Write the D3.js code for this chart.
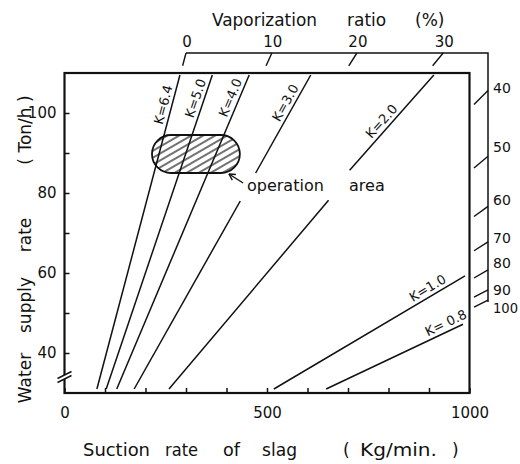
<!DOCTYPE html>
<html><head><meta charset="utf-8">
<script src="https://cdn.jsdelivr.net/npm/d3@7"></script>
<style>
body{margin:0;background:#fff}
svg{display:block}
text{font-family:"DejaVu Sans",sans-serif;fill:#111}
</style>
</head><body>
<svg id="c" width="520" height="464"></svg>
<script>
// ---------- data ----------
const xTickValues = [0,100,200,300,400,500,600,700,800,900,1000];
const xTickLabels = [0,500,1000];
const yTickValues = [40,50,60,70,80,90,100];
const yTickLabels = [40,60,80,100];
const kLabels = ["K=6.4","K=5.0","K=4.0","K=3.0","K=2.0","K=1.0","K= 0.8"];
// segments of each K line: [[S,W],[S,W]] (S kg/min, W ton/h)
const kSegments = [
  [[[80,31],[285,109.5]]],
  [[[103,31],[365,109.5]]],
  [[[129,31],[456,109.5]]],
  [[[172,31],[434,78]], [[472,85],[608,109.5]]],
  [[[258,31],[652,78.2]], [[704,85.7],[912,109.5]]],
  [[[517,31],[989,59.3]]],
  [[[646,31],[984,47.2]]]
];
const kLabelW = [101.5,103,103,101.5,96.5,54.4,45.6];
const vapTicks = [0,10,20,30];
const vapTickS = [300,512,722,935];
const rightTicks = [40,50,60,70,80,90,100];
const rightTickW = [101.25,85.5,73.5,65,58.25,53.5,51];
const rightLabelW = [106.25,91.5,78.25,68.75,62.5,55.75,51.25];
const opAreaS = [216,433];
const opAreaW = [85,94.5];
const opArrow = [[441,82.5],[406,84.75]];

// ---------- drawing ----------
const svg = d3.select("#c");
const x = d3.scaleLinear().domain([0,1000]).range([64.5,469.5]);
const y = d3.scaleLinear().domain([30,110]).range([393,73]);
const ink = "#111";

// hatch pattern
const defs = svg.append("defs");
const pat = defs.append("pattern").attr("id","hatch").attr("patternUnits","userSpaceOnUse")
  .attr("width",6).attr("height",6).attr("patternTransform","rotate(-30)");
pat.append("line").attr("x1",0).attr("x2",6).attr("y1",3).attr("y2",3)
  .attr("stroke",ink).attr("stroke-width",1.2);

// operation area
const ox0 = x(opAreaS[0]), ox1 = x(opAreaS[1]), oy0 = y(opAreaW[1]), oy1 = y(opAreaW[0]);
svg.append("rect").attr("x",ox0).attr("y",oy0).attr("width",ox1-ox0).attr("height",oy1-oy0)
  .attr("rx",(oy1-oy0)/2).attr("ry",(oy1-oy0)/2)
  .attr("fill","url(#hatch)").attr("stroke",ink).attr("stroke-width",1.8);

// K lines
const gLines = svg.append("g").attr("stroke",ink).attr("stroke-width",1.5).attr("fill","none");
kSegments.forEach((segs,i)=>{
  segs.forEach(s=>{
    gLines.append("line").attr("x1",x(s[0][0])).attr("y1",y(s[0][1]))
      .attr("x2",x(s[1][0])).attr("y2",y(s[1][1]));
  });
  const w = kLabelW[i];
  const seg = segs.find(s=> w>=s[0][1] && w<=s[1][1]) || segs[segs.length-1];
  const sAt = d3.scaleLinear().domain([seg[0][1],seg[1][1]]).range([seg[0][0],seg[1][0]])(w);
  const ang = Math.atan2(y(seg[1][1])-y(seg[0][1]), x(seg[1][0])-x(seg[0][0]))*180/Math.PI;
  svg.append("text").attr("transform",`translate(${x(sAt)},${y(w)}) rotate(${ang})`)
    .attr("dy",-4).attr("text-anchor","middle").attr("font-size",13).text(kLabels[i]);
});

// frame
svg.append("rect").attr("x",x(0)).attr("y",y(110)).attr("width",x(1000)-x(0)).attr("height",y(30)-y(110))
  .attr("fill","none").attr("stroke",ink).attr("stroke-width",2.2);

// bottom axis
const xa = svg.append("g").attr("transform",`translate(0,${y(30)})`)
  .call(d3.axisBottom(x).tickValues(xTickValues).tickSizeInner(-5).tickSizeOuter(0).tickPadding(14)
    .tickFormat(d=> xTickLabels.includes(d)? d : ""));
xa.select(".domain").remove();
xa.selectAll("line").attr("stroke",ink).attr("stroke-width",1.5);
xa.selectAll("text").attr("font-size",15).attr("fill",ink).attr("font-family",'"DejaVu Sans",sans-serif');

// left axis
const ya = svg.append("g").attr("transform",`translate(${x(0)},0)`)
  .call(d3.axisLeft(y).tickValues(yTickValues).tickSizeInner(-5).tickSizeOuter(0).tickPadding(8)
    .tickFormat(d=> yTickLabels.includes(d)? d : ""));
ya.select(".domain").remove();
ya.selectAll("line").attr("stroke",ink).attr("stroke-width",1.5);
ya.selectAll("text").attr("font-size",15).attr("fill",ink).attr("font-family",'"DejaVu Sans",sans-serif');

// axis break
const by = y(34.5), bx = x(0);
svg.append("polygon").attr("points",`${bx-6},${by+3} ${bx+6},${by-3} ${bx+6},${by+1} ${bx-6},${by+7}`).attr("fill","#fff");
svg.append("line").attr("x1",bx-7).attr("y1",by+3.5).attr("x2",bx+7).attr("y2",by-3.5).attr("stroke",ink).attr("stroke-width",1.4);
svg.append("line").attr("x1",bx-7).attr("y1",by+7.5).attr("x2",bx+7).attr("y2",by+0.5).attr("stroke",ink).attr("stroke-width",1.4);

// vaporization ratio scale (top)
const topW = 115, topW2 = 111.8;
const bracketX = 488;
const vapS = d3.scaleLinear().domain(vapTicks).range(vapTickS);
svg.append("path").attr("d",`M${x(vapS(0))},${y(topW)} H${bracketX} V${y(rightTickW[rightTickW.length-1])-7}`)
  .attr("fill","none").attr("stroke",ink).attr("stroke-width",1.5);
vapTicks.forEach(v=>{
  const s = vapS(v);
  svg.append("line").attr("x1",x(s)).attr("y1",y(topW)).attr("x2",x(s*topW2/topW)).attr("y2",y(topW2))
    .attr("stroke",ink).attr("stroke-width",1.4);
  svg.append("text").attr("x",x(s)+1).attr("y",47).attr("text-anchor","middle").attr("font-size",15).text(v);
});
svg.append("text").attr("x",212).attr("y",26).attr("font-size",17).attr("textLength",105).attr("lengthAdjust","spacingAndGlyphs").text("Vaporization");
svg.append("text").attr("x",347).attr("y",26).attr("font-size",17).text("ratio");
svg.append("text").attr("x",415).attr("y",26).attr("font-size",17).text("(%)");

// right scale
const sFrame = x.invert(474), sBr = x.invert(bracketX), sRef = x.invert(x(1000)+1);
rightTicks.forEach((v,i)=>{
  const w0 = rightTickW[i]*sFrame/sRef;
  const w1 = rightTickW[i]*sBr/sRef;
  svg.append("line").attr("x1",474).attr("y1",y(w0)).attr("x2",bracketX).attr("y2",y(w1))
    .attr("stroke",ink).attr("stroke-width",1.4);
  const t = svg.append("text").attr("x",493).attr("y",y(rightLabelW[i])).attr("dy","0.35em").attr("font-size",14).text(v);
  if (String(v).length > 2) t.attr("textLength",25).attr("lengthAdjust","spacingAndGlyphs");
});

// operation area annotation
const a0 = [x(opArrow[0][0]),y(opArrow[0][1])], a1 = [x(opArrow[1][0]),y(opArrow[1][1])];
svg.append("line").attr("x1",a0[0]).attr("y1",a0[1]).attr("x2",a1[0]).attr("y2",a1[1]).attr("stroke",ink).attr("stroke-width",1.4);
const dir = Math.atan2(a0[1]-a1[1],a0[0]-a1[0]);
[0.5,-0.5].forEach(o=>{
  svg.append("line").attr("x1",a1[0]).attr("y1",a1[1])
    .attr("x2",a1[0]+7*Math.cos(dir+o)).attr("y2",a1[1]+7*Math.sin(dir+o))
    .attr("stroke",ink).attr("stroke-width",1.4);
});
svg.append("text").attr("x",247).attr("y",191).attr("font-size",16).text("operation");
svg.append("text").attr("x",349).attr("y",191).attr("font-size",16).text("area");

// bottom title
[["Suction",83,67],["rate",165,33],["of",223,17],["slag",262,35],["(",343,null],["Kg/min.",360,77],[")",452,null]]
  .forEach(([t,px,w])=>{
    const el = svg.append("text").attr("x",px).attr("y",456).attr("font-size",17).text(t);
    if(w) el.attr("textLength",w).attr("lengthAdjust","spacingAndGlyphs");
  });
// left title
[["Water",378],["supply",305],["rate",235],["( Ton/h )",130]].forEach(([t,py])=>{
  svg.append("text").attr("transform",`translate(31,${py}) rotate(-90)`).attr("text-anchor","middle")
    .attr("font-size",17).text(t);
});
</script>
</body></html>
